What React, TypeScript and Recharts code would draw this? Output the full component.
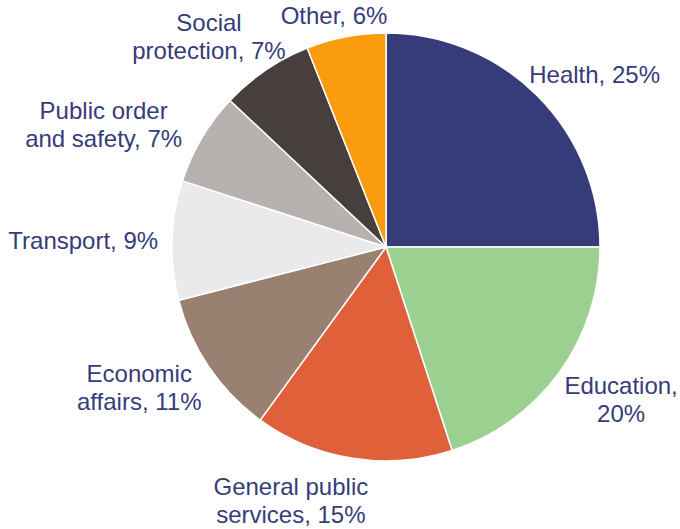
import { PieChart, Pie, Cell } from "recharts";

const categories = [
  "Health",
  "Education",
  "General public services",
  "Economic affairs",
  "Transport",
  "Public order and safety",
  "Social protection",
  "Other",
];

const shares = [25, 20, 15, 11, 9, 7, 7, 6];

// how Excel wrapped each label
const labelTexts = [
  "Health, 25%",
  "Education,\n20%",
  "General public\nservices, 15%",
  "Economic\naffairs, 11%",
  "Transport, 9%",
  "Public order\nand safety, 7%",
  "Social\nprotection, 7%",
  "Other, 6%",
];

const colors = [
  "#363C7A",
  "#9BD090",
  "#E0603A",
  "#9A8070",
  "#EAE9EC",
  "#B7B2AF",
  "#463F3E",
  "#FA9C0E",
];

// Excel's "best fit" pushes a couple of labels around
const labelNudgeX = [4, 8, -48, -10, -4, -22, -8, 0];
const labelNudgeY = [-4, 4, 5, -1, 1, 6, -2, 2];

const FONT_SIZE = 24;
const LINE_H = 28;
const FONT = `${FONT_SIZE}px "Liberation Sans", Arial, sans-serif`;
const TEXT_COLOR = "#363C7A";

const data = categories.map((name, i) => ({
  name,
  value: shares[i],
  label: labelTexts[i],
}));

let ctx: CanvasRenderingContext2D | null = null;
const measure = (s: string) => {
  if (!ctx) ctx = document.createElement("canvas").getContext("2d");
  if (!ctx) return s.length * 11.3;
  ctx.font = FONT;
  return ctx.measureText(s).width;
};

const renderLabel = (props: any) => {
  const { cx, cy, midAngle, outerRadius, index } = props;
  const lines = data[index].label.split("\n");
  const w = Math.max(...lines.map(measure));
  const h = lines.length * LINE_H;
  const rad = (midAngle * Math.PI) / 180;
  const c = Math.cos(rad);
  const s = Math.sin(rad);
  const px = cx + (outerRadius + 10) * c;
  const py = cy - (outerRadius + 10) * s;
  const centerX = px + (c * w) / 2 + labelNudgeX[index];
  const centerY = py - (s * h) / 2 + labelNudgeY[index];
  const top = centerY - h / 2;
  return (
    <text
      textAnchor="middle"
      fill={TEXT_COLOR}
      style={{ font: FONT }}
      key={`lbl-${index}`}
    >
      {lines.map((ln: string, i: number) => (
        <tspan
          key={i}
          x={centerX}
          y={top + i * LINE_H + LINE_H / 2 + FONT_SIZE * 0.35}
        >
          {ln}
        </tspan>
      ))}
    </text>
  );
};

const App = () => {
  return (
    <div style={{ position: "absolute", left: 0, top: 0 }}>
      <PieChart
        width={680}
        height={529}
        margin={{ top: 0, right: 0, bottom: 0, left: 0 }}
      >
        <Pie
          data={data}
          dataKey="value"
          cx={386}
          cy={247}
          outerRadius={214}
          startAngle={90}
          endAngle={-270}
          stroke="#ffffff"
          strokeWidth={1.5}
          label={renderLabel}
          labelLine={false}
          isAnimationActive={false}
        >
          {data.map((d, i) => (
            <Cell key={d.name} fill={colors[i]} />
          ))}
        </Pie>
      </PieChart>
    </div>
  );
};

export default App;
